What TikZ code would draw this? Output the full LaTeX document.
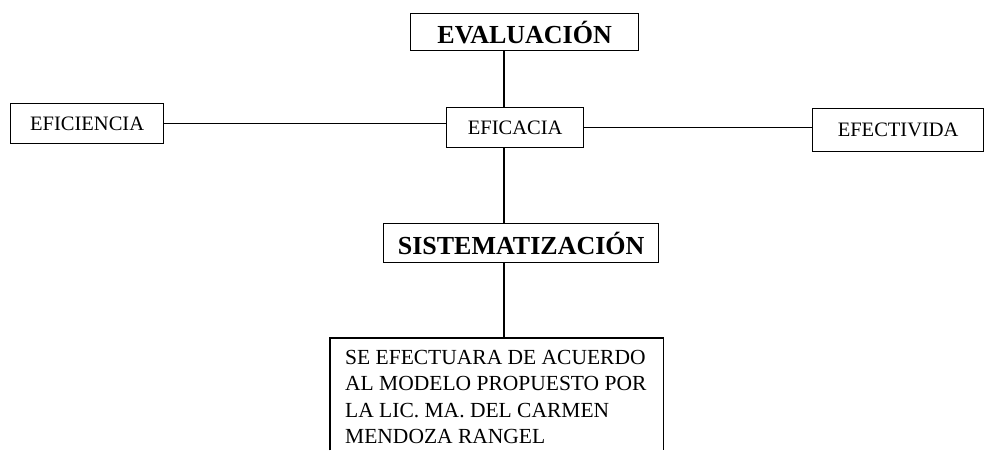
\documentclass[tikz,border=0pt]{standalone}
\usepackage{fontspec}
\setmainfont{Liberation Serif}
\begin{document}
\begin{tikzpicture}[x=1pt,y=-1pt,
  box/.style={draw=black,line width=1.3pt,inner sep=0pt,anchor=north west},
  smalltext/.style={font=\fontsize{20.5}{24}\selectfont},
  bigtext/.style={font=\bfseries\fontsize{26}{30}\selectfont},
  link/.style={draw=black,line width=1.2pt}]
\useasboundingbox (0,0) rectangle (985,450);
% boxes
\node[box,bigtext,minimum width=228pt,minimum height=37pt] (eval) at (410,13) {EVALUACIÓN};
\node[box,smalltext,minimum width=153pt,minimum height=40pt] (efi) at (10,103) {EFICIENCIA};
\node[box,smalltext,minimum width=137pt,minimum height=40pt] (efc) at (446,107) {EFICACIA};
\node[box,smalltext,minimum width=171pt,minimum height=43pt] (eft) at (812,108) {EFECTIVIDA};
\node[box,bigtext,minimum width=275pt,minimum height=39pt] (sis) at (383,223) {SISTEMATIZACIÓN};
\node[inner sep=0pt,anchor=north west,minimum width=333pt,minimum height=112pt] (notebox) at (330,338) {};
\draw[link,line width=1.3pt] (notebox.south west) -- (notebox.north west) -- (notebox.north east) -- (notebox.south east);
\node[inner sep=0pt,anchor=north west,align=left,font=\fontsize{21.5}{26.5}\selectfont] (note) at (345,350)
  {SE EFECTUARA DE ACUERDO\\AL MODELO PROPUESTO POR\\LA LIC. MA. DEL CARMEN\\MENDOZA RANGEL};
% connectors
\coordinate (cx) at (504,0);
\draw[link] (eval.south -| cx) -- (efc.north -| cx);
\draw[link] (efc.south -| cx) -- (sis.north -| cx);
\draw[link] (sis.south -| cx) -- (notebox.north -| cx);
\draw[link] (efi.east) -- (efi.east -| efc.west);
\draw[link] (efc.east) -- (efc.east -| eft.west);
\end{tikzpicture}
\end{document}
